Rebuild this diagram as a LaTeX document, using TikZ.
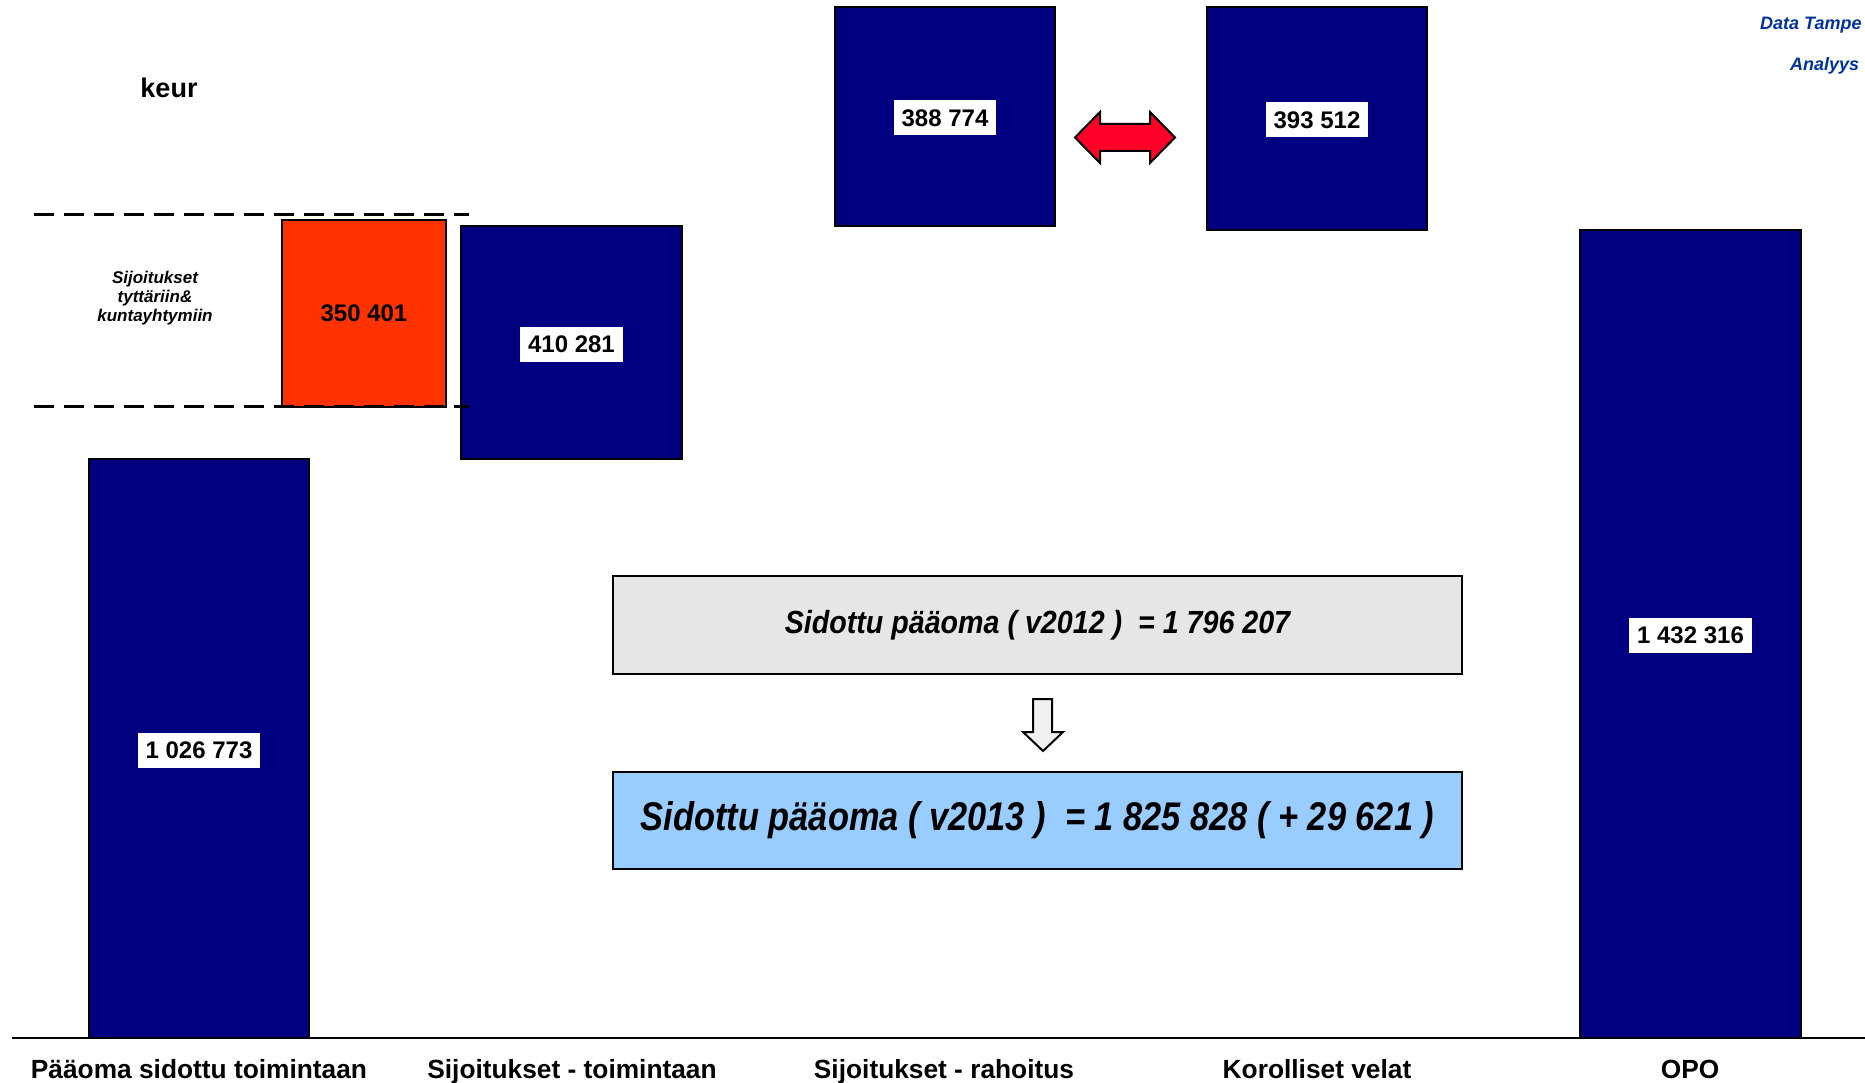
\documentclass[tikz,border=0pt]{standalone}
\usepackage{fontspec}
\setmainfont{Liberation Sans}
\newfontfamily\condfont[FakeStretch=0.86]{Liberation Sans}
\newfontfamily\condfontb[FakeStretch=0.895]{Liberation Sans}
\definecolor{navy}{HTML}{000080}
\definecolor{orng}{HTML}{FF3300}
\definecolor{arrred}{HTML}{FF0028}
\definecolor{boxgray}{HTML}{E6E6E6}
\definecolor{boxblue}{HTML}{99CCFF}
\definecolor{dtblue}{HTML}{0033A0}
\definecolor{arrgray}{HTML}{F0F0F0}
\begin{document}
\begin{tikzpicture}[x=1pt,y=-1pt,
  bar/.style={draw=black, line width=1.5pt, fill=navy, inner sep=0pt},
  obar/.style={draw=black, line width=2pt, fill=orng, inner sep=0pt,
    font=\fontsize{24}{28}\selectfont\bfseries},
  numlbl/.style={fill=white, inner xsep=8pt, inner ysep=0pt, minimum height=35pt,
    font=\fontsize{24}{28}\selectfont\bfseries},
  catlbl/.style={font=\fontsize{26.3}{30}\selectfont\bfseries, inner sep=0pt, anchor=base},
  sumbox/.style={draw=black, line width=2.5pt, inner sep=0pt},
  dashline/.style={dash pattern=on 20pt off 10pt, line width=3pt},
  hdr/.style={font=\fontsize{18}{20}\selectfont\bfseries\itshape, text=dtblue, inner sep=0pt, anchor=base west}]
\useasboundingbox[fill=white] (0,0) rectangle (1865,1083);

% header texts
\node[hdr] (dt) at (1760,30) {Data Tampe};
\node[hdr] (an) at (1790,71) {Analyys};
\node[font=\fontsize{27}{30}\selectfont\bfseries, inner sep=0pt] (keur) at (169,88) {keur};

% dashed guide lines
\coordinate (d1a) at (34,215);
\coordinate (d1b) at (469,215);
\coordinate (d2a) at (34,406);
\coordinate (d2b) at (469,406);

% bars
\node[bar, minimum width=220, minimum height=579] (b1) at (199,748.5) {};
\node[bar, minimum width=221, minimum height=233] (b2) at (571.5,342.5) {};
\node[obar, minimum width=164, minimum height=187] (ob) at (364,313.5) {350 401};
\draw[dashline] (d1a) -- (d1b);
\draw[dashline] (d2a) -- (d2b);
\node[bar, minimum width=220, minimum height=219] (b3) at (945,116.5) {};
\node[bar, minimum width=220, minimum height=223] (b4) at (1317,118.5) {};
\node[bar, minimum width=221, minimum height=808] (b5) at (1690.5,634) {};

% value labels
\node[numlbl] (v1) at ([yshift=-1.5pt]b1.center) {1 026 773};
\node[numlbl] (v2) at ([yshift=-1.5pt]b2.center) {410 281};
\node[numlbl] (v3) at ([yshift=-1.5pt]b3.center) {388 774};
\node[numlbl] (v4) at ([yshift=-1.5pt]b4.center) {393 512};
\node[numlbl] (v5) at ([yshift=-1.5pt]b5.center) {1 432 316};

% side text
\node[font=\fontsize{17}{19}\selectfont\bfseries\itshape, align=center, inner sep=0pt] (sij) at (155,298)
  {Sijoitukset\\tyttäriin\&\\kuntayhtymiin};

% baseline
\coordinate (bl0) at (12,1038);
\coordinate (bl1) at (1865,1038);
\draw[line width=2.5pt] (bl0) -- (bl1);

% category labels
\node[catlbl] (c1) at (199,1078) {Pääoma sidottu toimintaan};
\node[catlbl] (c2) at (572,1078) {Sijoitukset - toimintaan};
\node[catlbl] (c3) at (944,1078) {Sijoitukset - rahoitus};
\node[catlbl] (c4) at (1317,1078) {Korolliset velat};
\node[catlbl] (c5) at (1690,1078) {OPO};

% red double arrow
\draw[line width=2pt, fill=arrred, line join=miter]
  (1075,137.5) -- (1100,112) -- (1100,124) -- (1150,124) -- (1150,112) -- (1175,137.5)
  -- (1150,163) -- (1150,151) -- (1100,151) -- (1100,163) -- cycle;

% summary boxes
\node[sumbox, fill=boxgray, minimum width=849, minimum height=98,
  font=\fontsize{32}{36}\condfontb\bfseries\itshape] (s1) at (1037.5,625)
  {Sidottu pääoma ( v2012 )\ \ = 1 796 207};
\node[sumbox, fill=boxblue, minimum width=849, minimum height=97,
  font=\fontsize{40}{44}\condfont\bfseries\itshape] (s2) at (1037.5,820.5)
  {Sidottu pääoma ( v2013 )\ \ = 1 825 828 ( + 29 621 )};

% down arrow
\draw[line width=2pt, fill=arrgray, line join=miter]
  (1033,699) -- (1052,699) -- (1052,732) -- (1063,732) -- (1043,751) -- (1023,732)
  -- (1033,732) -- cycle;
\end{tikzpicture}
\end{document}
